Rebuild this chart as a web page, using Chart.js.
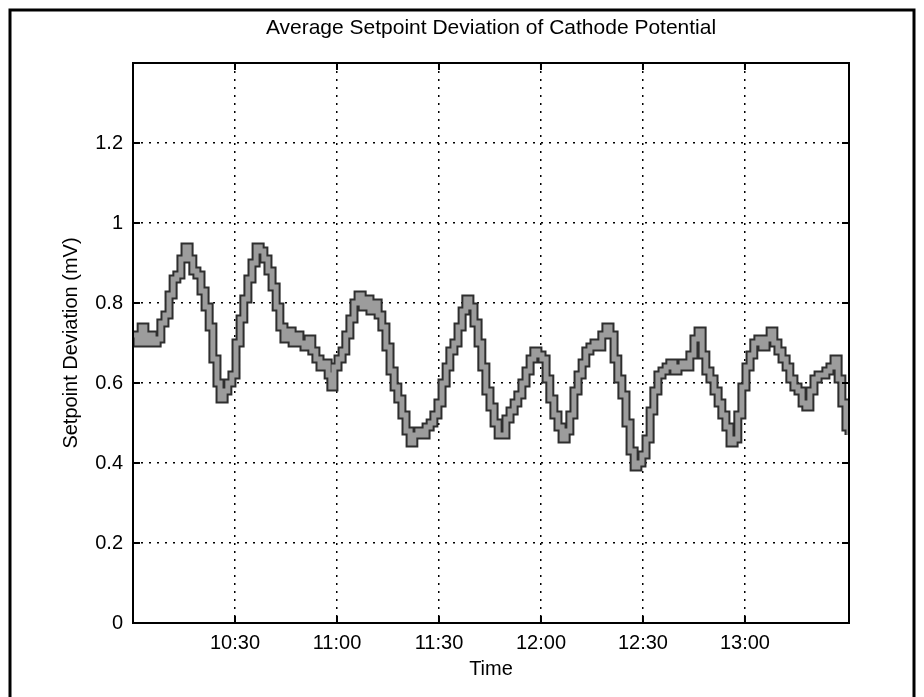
<!DOCTYPE html>
<html>
<head>
<meta charset="utf-8">
<title>Average Setpoint Deviation of Cathode Potential</title>
<script src="https://cdn.jsdelivr.net/npm/chart.js@4.4.1/dist/chart.umd.min.js"></script>
<style>
    html, body { margin: 0; padding: 0; background: #fff; }
    #chart { display: block; }
</style>
</head>
<body>
<canvas id="chart" width="924" height="697"></canvas>
<script>
// minutes after 10:00
const minutes = [
    0.0, 1.2, 2.4, 3.5, 4.7, 5.9, 7.1, 8.2, 9.4, 10.6, 11.8, 12.9, 14.1, 15.3, 16.5, 17.6,
    18.8, 20.0, 21.2, 22.4, 23.5, 24.7, 25.6, 26.8, 27.9, 29.1, 30.3, 31.5, 32.6, 33.8, 35.0,
    36.2, 37.4, 38.5, 39.7, 40.9, 42.1, 43.2, 44.4, 45.6, 46.8, 47.9, 49.1, 50.3, 51.5, 52.6,
    53.8, 55.0, 56.2, 57.4, 58.2, 59.1, 60.3, 61.5, 62.6, 63.8, 65.0, 66.2, 67.4, 68.5, 69.7,
    70.9, 72.1, 73.2, 74.4, 75.6, 76.8, 77.9, 79.1, 80.3, 81.5, 82.6, 83.8, 85.0, 86.2, 87.4,
    88.5, 89.7, 90.9, 92.1, 93.2, 94.4, 95.6, 96.8, 97.9, 99.1, 100.3, 101.5, 102.6, 103.8,
    105.0, 106.2, 107.4, 108.5, 109.7, 110.9, 112.1, 113.2, 114.4, 115.6, 116.8, 117.9, 119.1,
    120.3, 121.5, 122.6, 123.8, 125.0, 126.2, 127.4, 128.5, 129.7, 130.9, 132.1, 133.2, 134.4,
    135.6, 136.8, 137.9, 139.1, 140.3, 141.5, 142.6, 143.8, 145.0, 146.2, 147.4, 148.5, 149.7,
    150.9, 152.1, 153.2, 154.4, 155.6, 156.8, 157.9, 159.1, 160.3, 161.5, 162.6, 163.8, 165.0,
    166.2, 167.4, 168.5, 169.7, 170.9, 172.1, 173.2, 174.4, 175.6, 176.8, 177.9, 179.1, 180.3,
    181.5, 182.6, 183.8, 185.0, 186.2, 187.4, 188.5, 189.7, 190.9, 192.1, 193.2, 194.4, 195.6,
    196.8, 197.9, 199.1, 200.3, 201.5, 202.6, 203.8, 205.0, 206.2, 207.4, 208.5, 209.7, 210.6
]

// setpoint deviation, mV
const deviation = [
    0.72, 0.70, 0.74, 0.70, 0.72, 0.70, 0.71, 0.75, 0.77, 0.82, 0.86, 0.87, 0.91, 0.94, 0.91, 0.88,
    0.87, 0.83, 0.79, 0.74, 0.66, 0.60, 0.56, 0.58, 0.60, 0.62, 0.70, 0.76, 0.81, 0.86, 0.90,
    0.94, 0.93, 0.91, 0.88, 0.84, 0.79, 0.74, 0.71, 0.73, 0.70, 0.72, 0.70, 0.69, 0.71, 0.68,
    0.66, 0.64, 0.65, 0.62, 0.59, 0.64, 0.66, 0.68, 0.72, 0.76, 0.80, 0.82, 0.79, 0.81, 0.78,
    0.80, 0.77, 0.74, 0.69, 0.63, 0.59, 0.56, 0.52, 0.48, 0.45, 0.47, 0.48, 0.47, 0.49, 0.50,
    0.52, 0.55, 0.60, 0.64, 0.68, 0.70, 0.74, 0.78, 0.81, 0.79, 0.75, 0.70, 0.64, 0.58,
    0.54, 0.50, 0.47, 0.47, 0.51, 0.53, 0.55, 0.57, 0.60, 0.63, 0.66, 0.68, 0.67,
    0.66, 0.61, 0.56, 0.52, 0.49, 0.46, 0.48, 0.52, 0.58, 0.62, 0.65, 0.68, 0.69,
    0.70, 0.69, 0.72, 0.74, 0.72, 0.66, 0.61, 0.57, 0.50, 0.43, 0.39, 0.40, 0.42,
    0.46, 0.53, 0.58, 0.62, 0.63, 0.64, 0.65, 0.63, 0.64, 0.65, 0.64, 0.67, 0.71,
    0.73, 0.67, 0.63, 0.61, 0.58, 0.55, 0.52, 0.49, 0.45, 0.46, 0.52, 0.59, 0.64,
    0.67, 0.70, 0.71, 0.69, 0.71, 0.73, 0.70, 0.68, 0.66, 0.64, 0.61, 0.59, 0.58,
    0.55, 0.54, 0.58, 0.61, 0.62, 0.62, 0.63, 0.64, 0.66, 0.61, 0.55, 0.49, 0.47
]

const tickMinutes = [30, 60, 90, 120, 150, 180]
const tickLabels = ["10:30", "11:00", "11:30", "12:00", "12:30", "13:00"]
const yTicks = [0, 0.2, 0.4, 0.6, 0.8, 1, 1.2]

const points = minutes.map((m, i) => ({x: m, y: deviation[i]}))
const font = {family: "'Liberation Sans', Arial, sans-serif", size: 20}

// box, inward ticks, outer border and the text around the axes
const matlabFrame = {
    id: "matlabFrame",
    afterDraw(chart) {
        const {ctx, chartArea: a, scales: {x, y}} = chart
        ctx.save()
        ctx.strokeStyle = "#000"
        ctx.lineWidth = 2
        ctx.strokeRect(a.left, a.top, a.right - a.left, a.bottom - a.top)

        ctx.beginPath()
        tickMinutes.forEach(m => {
            const px = x.getPixelForValue(m)
            ctx.moveTo(px, a.bottom); ctx.lineTo(px, a.bottom - 7)
            ctx.moveTo(px, a.top); ctx.lineTo(px, a.top + 7)
        })
        yTicks.forEach(v => {
            const py = y.getPixelForValue(v)
            ctx.moveTo(a.left, py); ctx.lineTo(a.left + 7, py)
            ctx.moveTo(a.right, py); ctx.lineTo(a.right - 7, py)
        })
        ctx.stroke()

        // outer figure border
        ctx.lineWidth = 3
        ctx.beginPath()
        ctx.moveTo(10, 697); ctx.lineTo(10, 10); ctx.lineTo(914, 10); ctx.lineTo(914, 697)
        ctx.stroke()

        ctx.fillStyle = "#000"
        ctx.textAlign = "center"
        ctx.textBaseline = "middle"
        const cx = (a.left + a.right) / 2
        ctx.font = `21px ${font.family}`
        ctx.fillText("Average Setpoint Deviation of Cathode Potential", cx, 28)
        ctx.font = `${font.size}px ${font.family}`
        ctx.fillText("Time", cx, 669)
        ctx.translate(71, (a.top + a.bottom) / 2)
        ctx.rotate(-Math.PI / 2)
        ctx.fillText("Setpoint Deviation (mV)", 0, 0)
        ctx.restore()
    }
}

new Chart(document.querySelector("#chart"), {
    type: "line",
    data: {
        datasets: [{
            data: points,
            borderColor: "#9c9c9c",
            borderWidth: 5,
            stepped: true,
            pointRadius: 0,
            order: 0
        }, {
            data: points,
            borderColor: "#2e2e2e",
            borderWidth: 9,
            stepped: true,
            pointRadius: 0,
            order: 1
        }]
    },
    options: {
        responsive: false,
        animation: false,
        layout: {padding: {top: 63, right: 75, bottom: 0, left: 0}},
        scales: {
            x: {
                type: "linear",
                min: 0,
                max: 210.6,
                afterFit: (s) => { s.height = 74 },
                afterBuildTicks: (s) => { s.ticks = tickMinutes.map(v => ({value: v})) },
                grid: {color: "#000", lineWidth: 1.5, drawTicks: false},
                border: {display: false, dash: [2, 6]},
                ticks: {
                    color: "#000",
                    font: font,
                    padding: 8,
                    maxRotation: 0,
                    callback: (v, i) => tickLabels[i]
                }
            },
            y: {
                min: 0,
                max: 1.4,
                afterFit: (s) => { s.width = 133 },
                afterBuildTicks: (s) => { s.ticks = yTicks.map(v => ({value: v})) },
                grid: {color: "#000", lineWidth: 1.5, drawTicks: false},
                border: {display: false, dash: [2, 6]},
                ticks: {
                    color: "#000",
                    font: font,
                    padding: 10,
                    callback: (v) => String(+v.toFixed(1))
                }
            }
        },
        plugins: {
            legend: {display: false},
            tooltip: {enabled: false}
        }
    },
    plugins: [matlabFrame]
})
</script>
</body>
</html>
